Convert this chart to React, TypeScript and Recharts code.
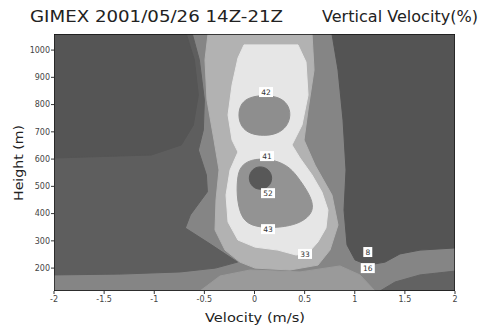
import { ScatterChart, Scatter, XAxis, YAxis } from 'recharts';

// contour regions as (velocity m/s, height m) outlines
const plotFrame = [
  { x: -2, y: 116 }, { x: 2, y: 116 }, { x: 2, y: 1059 }, { x: -2, y: 1059 },
];

const bottomLight = [
  { x: -0.544, y: 116 }, { x: -0.344, y: 171 }, { x: -0.045, y: 193 }, { x: 0.454, y: 186 },
  { x: 0.853, y: 208 }, { x: 1.052, y: 175 }, { x: 1.202, y: 116 },
];

const leftDark = [
  { x: -2, y: 1059 }, { x: -0.62, y: 1059 }, { x: -0.55, y: 964 }, { x: -0.5, y: 817 },
  { x: -0.51, y: 707 }, { x: -0.56, y: 633 }, { x: -0.48, y: 542 }, { x: -0.47, y: 480 },
  { x: -0.64, y: 395 }, { x: -0.69, y: 347 }, { x: -0.44, y: 288 }, { x: -0.17, y: 222 },
  { x: -0.39, y: 200 }, { x: -0.74, y: 186 }, { x: -1.34, y: 178 }, { x: -2, y: 175 },
];

const leftDarker = [
  { x: -2, y: 1059 }, { x: -0.68, y: 1059 }, { x: -0.6, y: 964 }, { x: -0.56, y: 835 },
  { x: -0.61, y: 725 }, { x: -0.73, y: 652 }, { x: -1.03, y: 615 }, { x: -2, y: 604 },
];

const plume = [
  { x: -0.464, y: 1059 }, { x: 0.574, y: 1059 }, { x: 0.594, y: 927 }, { x: 0.534, y: 780 },
  { x: 0.494, y: 670 }, { x: 0.604, y: 578 }, { x: 0.773, y: 468 }, { x: 0.833, y: 358 },
  { x: 0.753, y: 266 }, { x: 0.633, y: 211 }, { x: 0.354, y: 193 }, { x: 0.005, y: 200 },
  { x: -0.145, y: 222 }, { x: -0.294, y: 266 }, { x: -0.394, y: 340 }, { x: -0.384, y: 450 },
  { x: -0.354, y: 560 }, { x: -0.404, y: 670 }, { x: -0.474, y: 817 }, { x: -0.494, y: 964 },
];

const rightDark = [
  { x: 0.773, y: 1059 }, { x: 2, y: 1059 }, { x: 2, y: 274 }, { x: 1.651, y: 266 },
  { x: 1.451, y: 252 }, { x: 1.302, y: 222 }, { x: 1.132, y: 211 }, { x: 1.003, y: 230 },
  { x: 0.923, y: 285 }, { x: 0.893, y: 413 }, { x: 0.913, y: 560 }, { x: 0.883, y: 743 },
  { x: 0.833, y: 927 },
];

const cornerDark = [
  { x: 1.252, y: 116 }, { x: 1.402, y: 149 }, { x: 1.651, y: 175 }, { x: 2, y: 189 }, { x: 2, y: 116 },
];

const whiteRing = [
  { x: -0.105, y: 1019 }, { x: 0.434, y: 1019 }, { x: 0.514, y: 956 }, { x: 0.534, y: 835 },
  { x: 0.474, y: 725 }, { x: 0.374, y: 652 }, { x: 0.454, y: 604 }, { x: 0.574, y: 542 },
  { x: 0.673, y: 479 }, { x: 0.733, y: 413 }, { x: 0.713, y: 347 }, { x: 0.633, y: 296 },
  { x: 0.534, y: 255 }, { x: 0.414, y: 248 }, { x: 0.234, y: 266 }, { x: 0.005, y: 277 },
  { x: -0.165, y: 303 }, { x: -0.264, y: 369 }, { x: -0.284, y: 468 }, { x: -0.244, y: 560 },
  { x: -0.165, y: 626 }, { x: -0.224, y: 670 }, { x: -0.264, y: 762 }, { x: -0.224, y: 872 },
  { x: -0.165, y: 971 },
];

const upperCore = [
  { x: -0.165, y: 762 }, { x: -0.135, y: 806 }, { x: -0.045, y: 828 }, { x: 0.095, y: 835 },
  { x: 0.244, y: 828 }, { x: 0.334, y: 802 }, { x: 0.364, y: 762 }, { x: 0.324, y: 718 },
  { x: 0.224, y: 692 }, { x: 0.095, y: 685 }, { x: -0.045, y: 692 }, { x: -0.135, y: 718 },
];

const lowerCore = [
  { x: -0.145, y: 578 }, { x: 0.005, y: 604 }, { x: 0.204, y: 597 }, { x: 0.354, y: 571 },
  { x: 0.454, y: 523 }, { x: 0.554, y: 468 }, { x: 0.594, y: 420 }, { x: 0.534, y: 384 },
  { x: 0.404, y: 358 }, { x: 0.204, y: 347 }, { x: 0.005, y: 351 }, { x: -0.125, y: 376 },
  { x: -0.175, y: 450 }, { x: -0.175, y: 523 },
];

const lowerCenter = [
  { x: -0.065, y: 530 }, { x: -0.025, y: 564 }, { x: 0.055, y: 575 }, { x: 0.145, y: 564 },
  { x: 0.184, y: 530 }, { x: 0.145, y: 497 }, { x: 0.055, y: 486 }, { x: -0.025, y: 497 },
];

const contourLabels = [
  { x: 0.115, y: 846, v: '42' },
  { x: 0.125, y: 611, v: '41' },
  { x: 0.135, y: 475, v: '52' },
  { x: 0.135, y: 343, v: '43' },
  { x: 0.504, y: 252, v: '33' },
  { x: 1.13, y: 259, v: '8' },
  { x: 1.13, y: 200, v: '16' },
];

const velocityTicks = [-2, -1.5, -1, -0.5, 0, 0.5, 1, 1.5, 2];
const heightTicks = [200, 300, 400, 500, 600, 700, 800, 900, 1000];

const regions = [
  { name: 'bg', data: plotFrame, color: '#858585', type: 'linearClosed' },
  { name: 'bottomLight', data: bottomLight, color: '#9a9a9a', type: 'linearClosed' },
  { name: 'leftDark', data: leftDark, color: '#5e5e5e', type: 'linearClosed' },
  { name: 'leftDarker', data: leftDarker, color: '#555555', type: 'linearClosed' },
  { name: 'plume', data: plume, color: '#b2b2b2', type: 'linearClosed' },
  { name: 'rightDark', data: rightDark, color: '#545454', type: 'linearClosed' },
  { name: 'cornerDark', data: cornerDark, color: '#626262', type: 'linearClosed' },
  { name: 'whiteRing', data: whiteRing, color: '#e6e6e6', type: 'linearClosed' },
  { name: 'upperCore', data: upperCore, color: '#8e8e8e', type: 'basisClosed' },
  { name: 'lowerCore', data: lowerCore, color: '#939393', type: 'basisClosed' },
  { name: 'lowerCenter', data: lowerCenter, color: '#585858', type: 'basisClosed' },
];

const font = '"DejaVu Sans", sans-serif';

const NoDot = () => <g />;

const LabelBox = (props: any) => {
  const { cx, cy, payload } = props;
  const w = payload.v.length * 5 + 4;
  return (
    <g>
      <rect x={cx - w / 2} y={cy - 5} width={w} height={10} fill="#fff" />
      <text x={cx} y={cy + 3} textAnchor="middle" fontSize={7.5} fontFamily={font} fill="#333">
        {payload.v}
      </text>
    </g>
  );
};

export default function App() {
  return (
    <div style={{ position: 'absolute', left: 0, top: 0, width: 483, height: 329, background: '#fff' }}>
      <ScatterChart width={483} height={329} margin={{ top: 34, right: 28, left: 0, bottom: 0 }}>
        <XAxis
          type="number"
          dataKey="x"
          domain={[-2, 2]}
          ticks={velocityTicks}
          allowDataOverflow
          axisLine={false}
          tickSize={3}
          tickMargin={2}
          height={38}
          tick={{ fontSize: 8, fill: '#444', fontFamily: font }}
          tickLine={{ stroke: '#333' }}
        />
        <YAxis
          type="number"
          dataKey="y"
          domain={[116, 1059]}
          ticks={heightTicks}
          allowDataOverflow
          axisLine={false}
          tickSize={3}
          tickMargin={1}
          width={54}
          tick={{ fontSize: 8, fill: '#444', fontFamily: font }}
          tickLine={{ stroke: '#333' }}
        />
        {regions.map((r) => (
          <Scatter
            key={r.name}
            data={r.data}
            shape={NoDot}
            line={{ fill: r.color, stroke: r.color, strokeWidth: 1 }}
            lineType="joint"
            lineJointType={r.type as any}
            isAnimationActive={false}
          />
        ))}
        <Scatter
          data={plotFrame}
          shape={NoDot}
          line={{ fill: 'none', stroke: '#111', strokeWidth: 1.3 }}
          lineType="joint"
          lineJointType="linearClosed"
          isAnimationActive={false}
        />
        <Scatter data={contourLabels} shape={LabelBox} isAnimationActive={false} />
      </ScatterChart>
      <svg width={483} height={329} style={{ position: 'absolute', left: 0, top: 0, pointerEvents: 'none' }}>
        <text x={30} y={22} fontSize={15} fontFamily={font} fill="#222" textLength={253} lengthAdjust="spacingAndGlyphs">
          GIMEX 2001/05/26 14Z-21Z
        </text>
        <text x={322} y={22} fontSize={15} fontFamily={font} fill="#222" textLength={156} lengthAdjust="spacingAndGlyphs">
          Vertical Velocity(%)
        </text>
        <text x={255} y={322} fontSize={13} fontFamily={font} fill="#222" textAnchor="middle" textLength={100} lengthAdjust="spacingAndGlyphs">
          Velocity (m/s)
        </text>
        <text
          x={0}
          y={0}
          fontSize={13}
          fontFamily={font}
          fill="#222"
          textAnchor="middle"
          textLength={76}
          lengthAdjust="spacingAndGlyphs"
          transform="translate(23,163) rotate(-90)"
        >
          Height (m)
        </text>
      </svg>
    </div>
  );
}
